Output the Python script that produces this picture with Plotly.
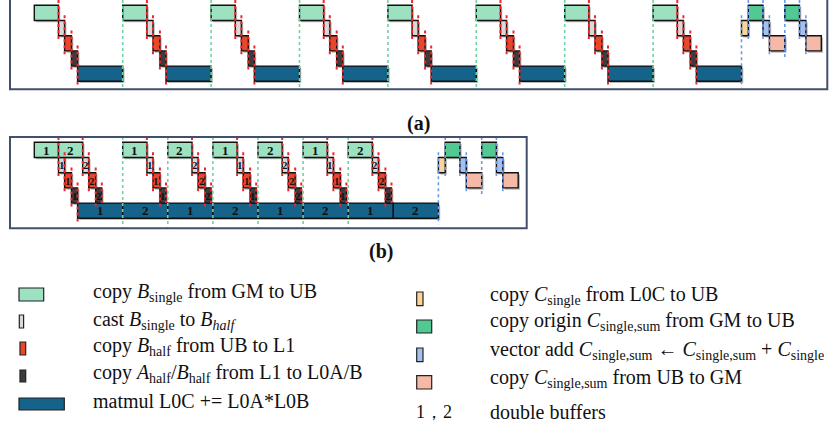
import plotly.graph_objects as go

W, H = 840, 428

# ---- task types: name, row in the timeline, duration (time units) ----
task_names = ["copy_B_single", "cast_B", "copy_B_half_L1", "copy_L0", "matmul",
              "copy_C_single", "copy_C_origin", "vector_add", "copy_C_out"]
task_rows = [0, 1, 2, 3, 4, 1, 0, 1, 2]
task_durations = [24.2, 6.1, 6.9, 6.1, 45.1, 6.8, 14.7, 6.4, 15.4]

n_tiles = 8          # number of matmul tiles along K
n_out_blocks = 2     # output blocks accumulated at the end
buffer_labels = ["1", "2"]

fill = {
    "copy_B_single": "#9de1c1", "cast_B": "#d9d9d9", "copy_B_half_L1": "#e8482a",
    "copy_L0": "#3c3c3c", "matmul": "#15628a", "copy_C_single": "#fbd597",
    "copy_C_origin": "#52c892", "vector_add": "#a3c0f0", "copy_C_out": "#f6b8a7",
}
DUR = dict(zip(task_names, task_durations))
ROW = dict(zip(task_names, task_rows))

RED, TEAL, BLUE = "#f0262a", "#6fd3a4", "#6b9be6"


def tail_tasks(t0):
    out = [("copy_C_single", t0, t0 + DUR["copy_C_single"], None)]
    t = out[-1][2]
    for _ in range(n_out_blocks):
        for name in ["copy_C_origin", "vector_add", "copy_C_out"]:
            out.append((name, t, t + DUR[name], None))
            t += DUR[name]
    return out


# ---- schedule (a): single buffer, fully serial ----
sched_a, bounds_a = [], []
t = 0.0
prev = None
for i in range(n_tiles):
    for name in ["copy_B_single", "cast_B", "copy_B_half_L1", "copy_L0", "matmul"]:
        task = (name, t, t + DUR[name], None)
        if prev is not None:
            color = TEAL if prev[0] == "matmul" else RED
            bounds_a.append((t, ROW[prev[0]], ROW[name], color))
        sched_a.append(task)
        prev = task
        t += DUR[name]
tail = tail_tasks(t)
for task in tail:
    bounds_a.append((task[1], ROW[prev[0]], ROW[task[0]], BLUE))
    prev = task
sched_a += tail

# ---- schedule (b): double buffering ----
sched_b, bounds_b = [], []
mm_end = []
last_green_end = 0.0
for k in range(n_tiles):
    lab = buffer_labels[k % 2]
    if k < 2:
        gs = last_green_end
    else:
        gs = mm_end[k - 2]
        bounds_b.append((gs, 0, 4, TEAL))
    ge = gs + DUR["copy_B_single"]
    last_green_end = ge
    sched_b.append(("copy_B_single", gs, ge, lab))
    cs, ce = ge, ge + DUR["cast_B"]
    ls, le = ce, ce + DUR["copy_B_half_L1"]
    ds, de = le, le + DUR["copy_L0"]
    sched_b += [("cast_B", cs, ce, lab), ("copy_B_half_L1", ls, le, lab), ("copy_L0", ds, de, lab)]
    bounds_b += [(ge, 0, 1, RED), (ce, 1, 2, RED), (le, 2, 3, RED)]
    ms = de if k == 0 else max(de, mm_end[k - 1])
    if abs(ms - de) < 0.5:
        bounds_b.append((de, 3, 4, RED))
    else:
        bounds_b.append((de, 3, 3, RED))
    me = ms + DUR["matmul"]
    mm_end.append(me)
    sched_b.append(("matmul", ms, me, lab))
prev = sched_b[-1]
tail = tail_tasks(mm_end[-1])
for task in tail:
    bounds_b.append((task[1], ROW[prev[0]], ROW[task[0]], BLUE))
    prev = task
sched_b += tail

fig = go.Figure()


def py(y):
    return 1 - y / H


# axes: 1 time unit == 1 px, rows are 15.2 px tall
ROW_PX = 15.2
panels = {
    "a": dict(x=("x", "y"), px_left=10, px_right=827.3, t_left=-24.3,
              top_px=0.0, bottom_px=89.3, row0_px=5.3, open_top=True),
    "b": dict(x=("x2", "y2"), px_left=10, px_right=526.7, t_left=-24.3,
              top_px=137.0, bottom_px=228.3, row0_px=142.3, open_top=False),
}
layout_axes = {}
for key, p in panels.items():
    xa, ya = p["x"]
    xname = "xaxis" if xa == "x" else "xaxis2"
    yname = "yaxis" if ya == "y" else "yaxis2"
    span = p["px_right"] - p["px_left"]
    y_top = (p["top_px"] - p["row0_px"]) / ROW_PX
    y_bot = (p["bottom_px"] - p["row0_px"]) / ROW_PX
    p["y_top"], p["y_bot"] = y_top, y_bot
    layout_axes[xname] = dict(domain=[p["px_left"] / W, p["px_right"] / W],
                              range=[p["t_left"], p["t_left"] + span],
                              visible=False, fixedrange=True, anchor=ya)
    layout_axes[yname] = dict(domain=[py(p["bottom_px"]), py(p["top_px"])],
                              range=[y_bot, y_top], visible=False,
                              fixedrange=True, anchor=xa)

shapes, annotations = [], []
SERIF = "Liberation Serif"


def draw_panel(p, sched, bounds):
    xa, ya = p["x"]
    sh_dx, sh_dy = 1.8, 1.8 / ROW_PX
    # soft drop shadows
    for name, s, e, lab in sched:
        r = ROW[name]
        shapes.append(dict(type="rect", xref=xa, yref=ya, x0=s + sh_dx, x1=e + sh_dx,
                           y0=r + sh_dy, y1=r + 1 + sh_dy, line=dict(width=0),
                           fillcolor="rgba(60,60,60,0.35)", layer="below"))
    for name, s, e, lab in sched:
        r = ROW[name]
        shapes.append(dict(type="rect", xref=xa, yref=ya, x0=s, x1=e, y0=r, y1=r + 1,
                           line=dict(color="#111111", width=1.4),
                           fillcolor=fill[name], layer="below"))
        if lab is not None:
            narrow = (e - s) < 10
            annotations.append(dict(xref=xa, yref=ya, x=(s + e) / 2, y=r + 0.52,
                                    text="<b>%s</b>" % lab, showarrow=False,
                                    font=dict(family=SERIF, size=11 if narrow else 13,
                                              color="#111111")))
    # dotted dependency lines
    for x, ra, rb, color in bounds:
        lo, hi = min(ra, rb), max(ra, rb)
        y0 = max(lo - 0.35, p["y_top"])
        y1 = min(hi + 1.4, p["y_bot"] - 0.1)
        if color == TEAL:
            y0, y1 = p["y_top"], p["y_bot"]
        if color == RED and ra == rb:
            y1 = hi + 1.0
        shapes.append(dict(type="line", xref=xa, yref=ya, x0=x, x1=x, y0=y0, y1=y1,
                           line=dict(color=color, width=2 if color == RED else 1.6,
                                     dash="dot"), layer="above"))
    # panel frame
    shapes.append(dict(type="rect", xref=xa + " domain", yref=ya + " domain",
                       x0=0, x1=1, y0=0, y1=1.08 if p["open_top"] else 1,
                       line=dict(color="#42506b", width=2), layer="above"))


draw_panel(panels["a"], sched_a, bounds_a)
draw_panel(panels["b"], sched_b, bounds_b)

annotations.append(dict(xref="paper", yref="paper", x=418 / W, y=py(110), text="<b>(a)</b>",
                        showarrow=False, font=dict(family=SERIF, size=20, color="#111")))
annotations.append(dict(xref="paper", yref="paper", x=381 / W, y=py(252), text="<b>(b)</b>",
                        showarrow=False, font=dict(family=SERIF, size=20, color="#111")))

# ---- legend ----
LEG_SIZE = 20
legend_left = [
    ("copy_B_single", (19, 288, 43.7, 301), 292,
     "copy <i>B</i><sub>single</sub> from GM to UB"),
    ("cast_B", (19.3, 315, 23.6, 328), 320,
     "cast <i>B</i><sub>single</sub> to <i>B</i><sub><i>half</i></sub>"),
    ("copy_B_half_L1", (20, 342, 25.7, 355), 346.7,
     "copy <i>B</i><sub>half</sub> from UB to L1"),
    ("copy_L0", (20, 370, 25.7, 382), 373,
     "copy <i>A</i><sub>half</sub>/<i>B</i><sub>half</sub> from L1 to L0A/B"),
    ("matmul", (19, 398, 64.3, 410), 401, "matmul L0C += L0A*L0B"),
]
legend_right = [
    ("copy_C_single", (416.7, 292, 423, 305.7), 295,
     "copy <i>C</i><sub>single</sub> from L0C to UB"),
    ("copy_C_origin", (416.7, 320, 431.7, 333), 321.7,
     "copy origin <i>C</i><sub>single,sum</sub> from GM to UB"),
    ("vector_add", (416.7, 348, 423, 361.7), 350,
     "vector add <i>C</i><sub>single,sum</sub> ← <i>C</i><sub>single,sum</sub> + <i>C</i><sub>single</sub>"),
    ("copy_C_out", (416.7, 375.7, 431.7, 389), 378.3,
     "copy <i>C</i><sub>single,sum</sub> from UB to GM"),
]
for items, tx in ((legend_left, 90.7), (legend_right, 488.3)):
    for name, (x0, y0, x1, y1), ty, text in items:
        shapes.append(dict(type="rect", xref="paper", yref="paper",
                           x0=x0 / W, x1=x1 / W, y0=py(y0), y1=py(y1),
                           line=dict(color="#222222", width=1.2), fillcolor=fill[name]))
        annotations.append(dict(xref="paper", yref="paper", x=tx / W, y=py(ty),
                                xanchor="left", yanchor="middle", text=text,
                                showarrow=False,
                                font=dict(family=SERIF, size=LEG_SIZE, color="#111")))
annotations.append(dict(xref="paper", yref="paper", x=414 / W, y=py(411.7),
                        xanchor="left", yanchor="middle", text="1，2", showarrow=False,
                        font=dict(family=SERIF, size=18, color="#111")))
annotations.append(dict(xref="paper", yref="paper", x=488.3 / W, y=py(411.7),
                        xanchor="left", yanchor="middle", text="double buffers",
                        showarrow=False, font=dict(family=SERIF, size=LEG_SIZE, color="#111")))

fig.update_layout(width=W, height=H, margin=dict(l=0, r=0, t=0, b=0),
                  paper_bgcolor="white", plot_bgcolor="rgba(0,0,0,0)",
                  showlegend=False, shapes=shapes, annotations=annotations,
                  **layout_axes)
fig.write_html("out.html", config=dict(displayModeBar=False))
